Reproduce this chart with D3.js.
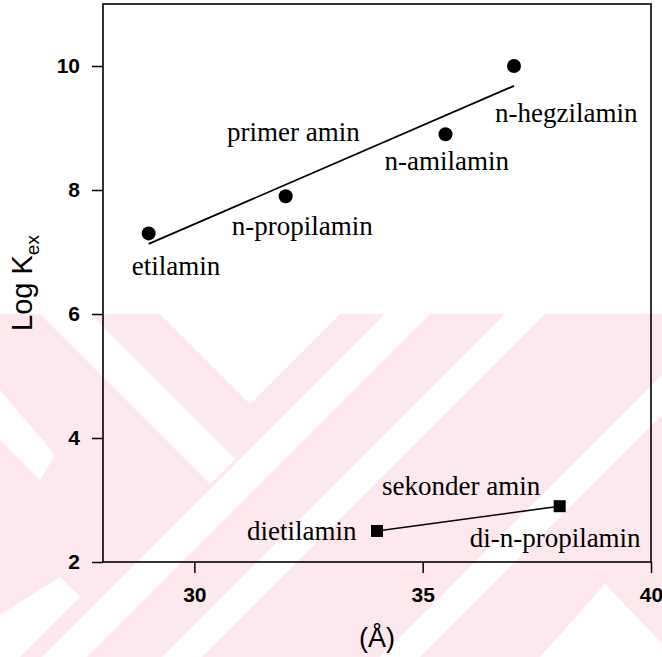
<!DOCTYPE html>
<html>
<head>
<meta charset="utf-8">
<script src="https://cdn.jsdelivr.net/npm/d3@7"></script>
<style>
  body { margin: 0; background: #fff; }
  svg { display: block; }
</style>
</head>
<body>
<svg width="662" height="657"></svg>
<script>
// primer aminler (daireler)
const primerNames = ["etilamin", "n-propilamin", "n-amilamin", "n-hegzilamin"];
const primerX = [29, 32, 35.5, 37];
const primerY = [7.3, 7.9, 8.9, 10.0];
// dogrusal uyum cizgisi (uc noktalar)
const fitX = [29, 37];
const fitY = [7.13, 9.68];

// sekonder aminler (kareler)
const sekonderNames = ["dietilamin", "di-n-propilamin"];
const sekonderX = [34, 38];
const sekonderY = [2.5, 2.9];

const xTicks = [30, 35, 40];
const yTicks = [2, 4, 6, 8, 10];

const svg = d3.select("svg");
const width = 662, height = 657;
const margin = {left: 103, right: 11, top: 4, bottom: 95};

const x = d3.scaleLinear().domain([28, 40]).range([margin.left, width - margin.right]);
const y = d3.scaleLinear().domain([2, 11]).range([height - margin.bottom, margin.top]);

// filigran (arka plan)
const wm = svg.append("g").attr("class", "watermark");
wm.append("rect").attr("x", 0).attr("y", 314).attr("width", width).attr("height", height - 314)
  .attr("fill", "#fde9ed");
const whiteShapes = [
  [[160, 314], [340, 314], [250, 404]],
  [[40, 314], [90, 314], [235, 459], [210, 484]],
  [[0, 390], [0, 440], [40, 480], [55, 455]],
  [[385, 314], [430, 314], [87, 657], [42, 657]],
  [[505, 314], [545, 314], [202, 657], [162, 657]],
  [[662, 375], [662, 415], [420, 657], [380, 657]],
  [[540, 657], [605, 584], [675, 657]],
  [[0, 615], [0, 657], [20, 657], [80, 597], [60, 577]]
];
whiteShapes.forEach(pts => {
  wm.append("polygon").attr("points", pts.map(p => p.join(",")).join(" ")).attr("fill", "#fff");
});

const sans = "Liberation Sans, Arial, sans-serif";

// eksenler
svg.append("g")
  .attr("transform", `translate(0,${y(2)})`)
  .call(d3.axisBottom(x).tickValues(xTicks).tickSize(11).tickPadding(14).tickFormat(d3.format("d")))
  .call(g => g.select(".domain").remove())
  .call(g => g.selectAll("line").attr("stroke", "#000").attr("stroke-width", 1.5))
  .call(g => g.selectAll("text").attr("font-family", sans)
    .attr("font-size", 21).attr("font-weight", "bold").attr("fill", "#000"));

svg.append("g")
  .attr("transform", `translate(${x(28)},0)`)
  .call(d3.axisLeft(y).tickValues(yTicks).tickSize(11).tickPadding(12).tickFormat(d3.format("d")))
  .call(g => g.select(".domain").remove())
  .call(g => g.selectAll("line").attr("stroke", "#000").attr("stroke-width", 1.5))
  .call(g => g.selectAll("text").attr("font-family", sans)
    .attr("font-size", 21).attr("font-weight", "bold").attr("fill", "#000"));

// cerceve
svg.append("rect")
  .attr("x", x(28)).attr("y", y(11))
  .attr("width", x(40) - x(28)).attr("height", y(2) - y(11))
  .attr("fill", "none").attr("stroke", "#000").attr("stroke-width", 1.6);

// eksen basliklari
const yTitle = svg.append("text")
  .attr("transform", `translate(32,${(y(2) + y(11)) / 2}) rotate(-90)`)
  .attr("text-anchor", "middle")
  .attr("font-family", sans)
  .attr("font-size", 29)
  .attr("fill", "#000");
yTitle.append("tspan").text("Log K");
yTitle.append("tspan").attr("font-size", 19).attr("dy", 7).text("ex");

svg.append("text")
  .attr("x", (x(28) + x(40)) / 2).attr("y", 647)
  .attr("text-anchor", "middle")
  .attr("font-family", sans)
  .attr("font-size", 27)
  .attr("fill", "#000")
  .text("(Å)");

// uyum cizgisi
svg.append("line")
  .attr("x1", x(fitX[0])).attr("y1", y(fitY[0]))
  .attr("x2", x(fitX[1])).attr("y2", y(fitY[1]))
  .attr("stroke", "#000").attr("stroke-width", 1.8);

// sekonder amin baglanti cizgisi
svg.append("path")
  .attr("d", d3.line().x((d, i) => x(sekonderX[i])).y((d, i) => y(sekonderY[i]))(sekonderX))
  .attr("fill", "none").attr("stroke", "#000").attr("stroke-width", 1.6);

// noktalar
svg.selectAll("circle.pt").data(primerX).enter().append("circle")
  .attr("class", "pt")
  .attr("cx", d => x(d))
  .attr("cy", (d, i) => y(primerY[i]))
  .attr("r", 7)
  .attr("fill", "#000");

const sq = 12;
svg.selectAll("rect.pt").data(sekonderX).enter().append("rect")
  .attr("class", "pt")
  .attr("x", d => x(d) - sq / 2)
  .attr("y", (d, i) => y(sekonderY[i]) - sq / 2)
  .attr("width", sq).attr("height", sq)
  .attr("fill", "#000");

// etiketler (noktaya gore kaydirma, piksel)
const primerShift = [{x: -17, y: 42}, {x: -54, y: 39}, {x: -61, y: 36}, {x: -19, y: 56}];
const sekonderShift = [{x: -130, y: 9}, {x: -90, y: 41}];

const serif = "Liberation Serif, Times New Roman, serif";

primerNames.forEach((name, i) => {
  svg.append("text")
    .attr("x", x(primerX[i]) + primerShift[i].x)
    .attr("y", y(primerY[i]) + primerShift[i].y)
    .attr("font-family", serif).attr("font-size", 27).attr("fill", "#000")
    .text(name);
});
sekonderNames.forEach((name, i) => {
  svg.append("text")
    .attr("x", x(sekonderX[i]) + sekonderShift[i].x)
    .attr("y", y(sekonderY[i]) + sekonderShift[i].y)
    .attr("font-family", serif).attr("font-size", 27).attr("fill", "#000")
    .text(name);
});

// grup basliklari
svg.append("text")
  .attr("x", 227).attr("y", 141)
  .attr("font-family", serif).attr("font-size", 27).attr("fill", "#000")
  .text("primer amin");
svg.append("text")
  .attr("x", 382).attr("y", 495)
  .attr("font-family", serif).attr("font-size", 27).attr("fill", "#000")
  .text("sekonder amin");
</script>
</body>
</html>
